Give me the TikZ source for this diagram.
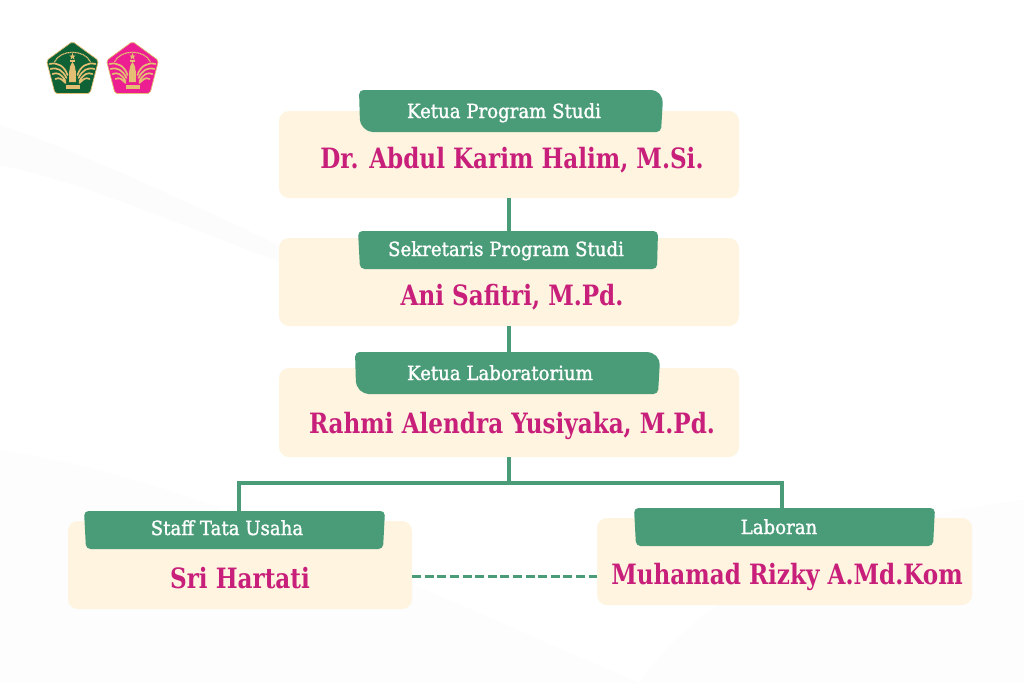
\documentclass[tikz,border=0pt]{standalone}
\usepackage{fontspec}
\setmainfont{DejaVu Serif}
\newfontfamily\rolefont[FakeStretch=0.93,FakeBold=1.5]{DejaVu Serif}
\newfontfamily\namefont[UprightFont={DejaVu Serif Bold},FakeStretch=0.825]{DejaVu Serif}
\definecolor{cream}{HTML}{FEF4E0}
\definecolor{lab}{HTML}{4A9C78}
\definecolor{pinkname}{HTML}{C8207A}
\definecolor{gold}{HTML}{E3BE73}
\definecolor{dgreen}{HTML}{0F6235}
\definecolor{hotpink}{HTML}{EC1E91}
\tikzset{
  x=1pt,y=-1pt,
  card/.style={fill=cream,rounded corners=10pt,draw=none,inner sep=0pt},
  tag/.style={fill=lab,rounded corners=4.5pt,draw=none},
  roletext/.style={text=white,font=\rolefont\fontsize{19.5}{21}\selectfont,inner sep=0pt,anchor=base},
  nametext/.style={text=pinkname,font=\namefont\fontsize{28}{30}\selectfont,inner sep=0pt,anchor=base},
  link/.style={draw=lab,line width=3.5pt},
  dashlink/.style={draw=lab,line width=3pt,dash pattern=on 9pt off 3.6pt},
}
\newcommand{\crest}[3]{%
  \begin{scope}[shift={(#1,#2)}]
    \fill[#3,draw=gold,line width=.7pt,rounded corners=2pt] (0,-26.5)--(26,-7.5)--(17.5,25.5)--(-17.5,25.5)--(-26,-7.5)--cycle;
    \draw[gold,line width=1.2pt,dash pattern=on 1.2pt off .5pt] (-18,-6) .. controls (-12,-19) and (12,-19) .. (18,-6);
    \foreach \s in {-1,1}{
      \begin{scope}[xscale=\s]
        \draw[gold,line width=1.7pt,line cap=round]
          (5,7) .. controls (8,-2) and (15,-6) .. (23,-4)
          (6,10) .. controls (10,2) and (15,-1) .. (22,1)
          (7,13) .. controls (11,6) and (15,4) .. (20,6)
          (7,15) .. controls (11,11) and (13,9) .. (17,11);
      \end{scope}
    }
    \fill[gold] (0,-15) -- (.9,-12.5) -- (3.2,-12.5) -- (1.3,-11) -- (2,-8.5) -- (0,-10) -- (-2,-8.5) -- (-1.3,-11) -- (-3.2,-12.5) -- (-.9,-12.5) -- cycle;
    \fill[gold] (-2.4,-8) rectangle (2.4,-6);
    \fill[gold] (0,-6) .. controls (4.5,0) and (3,6) .. (3.5,14) -- (-3.5,14) .. controls (-3,6) and (-4.5,0) .. (0,-6);
    \fill[gold] (-7,17) rectangle (7,20.5);
  \end{scope}}
\begin{document}
\begin{tikzpicture}
\useasboundingbox (0,0) rectangle (1024,683);
\fill[white] (0,0) rectangle (1024,683);
% faint background swooshes
\fill[black!1.2] (0,125) .. controls (130,170) and (250,235) .. (400,300) .. controls (250,260) and (120,190) .. (0,165) -- cycle;
\fill[black!0.8] (0,450) .. controls (200,480) and (420,590) .. (640,683) -- (0,683) -- cycle;
\fill[black!0.8] (1024,500) .. controls (850,520) and (700,590) .. (640,683) -- (1024,683) -- cycle;
\crest{72.5}{68}{dgreen}
\crest{132.5}{68}{hotpink}
% cards
\node[card,minimum width=460pt,minimum height=87pt] (c1) at (509,154.5) {};
\node[card,minimum width=460pt,minimum height=88pt] (c2) at (509,282) {};
\node[card,minimum width=460pt,minimum height=89pt] (c3) at (509,412.5) {};
\node[card,minimum width=344pt,minimum height=88pt] (c4) at (240,565) {};
\node[card,minimum width=375pt,minimum height=87pt] (c5) at (784.5,561.5) {};
\coordinate (t1) at (509,231);
\coordinate (t2) at (509,352);
\coordinate (bus) at (509,483);
\coordinate (busl) at (239,483);
\coordinate (busr) at (782,483);
\coordinate (t4) at (239,511);
\coordinate (t5) at (782,508);
% connectors
\draw[link] (c1.south) -- (t1);
\draw[link] (c2.south) -- (t2);
\draw[link] (c3.south) -- (bus);
\draw[link,line cap=rect] (busl) -- (busr);
\draw[link] (busl) -- (t4);
\draw[link] (busr) -- (t5);
\draw[dashlink] (c4.east |- 0,576) -- (c5.west |- 0,576);
% tags
\draw[tag] (359,90) -- (656,90) -- (663,98) -- (661,132) -- (368,132) -- (360,124) -- cycle;
\draw[tag] (358,231) -- (658,231) -- (657,269) -- (360,269) -- cycle;
\draw[tag] (355,352) -- (652,352) -- (660,360) -- (658,394) -- (364,394) -- (356,386) -- cycle;
\draw[tag] (84,511) -- (385,511) -- (383,549) -- (86,549) -- cycle;
\draw[tag] (634,508) -- (935,508) -- (933,546) -- (636,546) -- cycle;
% text
\node[roletext] (r1) at (504,118) {Ketua Program Studi};
\node[roletext] (r2) at (506,256) {Sekretaris Program Studi};
\node[roletext] (r3) at (500,380) {Ketua Laboratorium};
\node[roletext] (r4) at (227,535) {Staff Tata Usaha};
\node[roletext] (r5) at (779,534) {Laboran};
\node[nametext] (n1) at (512,168) {Dr. Abdul Karim Halim, M.Si.};
\node[nametext] (n2) at (512,305) {Ani Safitri, M.Pd.};
\node[nametext] (n3) at (512,433) {Rahmi Alendra Yusiyaka, M.Pd.};
\node[nametext] (n4) at (240,588) {Sri Hartati};
\node[nametext] (n5) at (787,584) {Muhamad Rizky A.Md.Kom};
\end{tikzpicture}
\end{document}
